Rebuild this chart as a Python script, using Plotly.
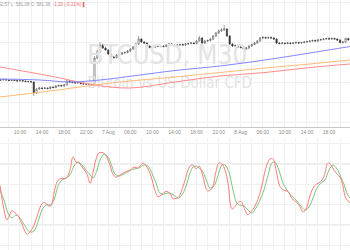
import plotly.graph_objects as go

# ---------------- data ----------------
bar_index = list(range(1, 128))

close = [561.4, 561.65, 561.4, 561.15, 561.4, 561.15, 560.9, 561.15, 560.9, 560.65,
         560.65, 560.4, 554.9, 556.9, 557.4, 557.15, 557.4, 557.15, 557.9, 557.65,
         558.4, 558.65, 558.4, 558.9, 560.9, 560.4, 560.15, 559.9, 560.15, 559.65,
         559.4, 559.4, 559.15, 558.9, 572.4, 575.4, 578.9, 577.4, 576.4, 574.4,
         572.9, 572.65, 573.9, 574.4, 574.9, 575.15, 575.9, 576.9, 577.9, 579.4,
         581.9, 580.4, 579.9, 578.4, 577.65, 577.9, 578.4, 578.15, 578.4, 578.15,
         578.9, 579.4, 578.9, 578.65, 578.9, 579.15, 578.9, 579.4, 579.65, 579.9,
         579.65, 580.9, 582.4, 579.9, 580.9, 581.15, 581.9, 583.4, 584.9, 585.9,
         586.4, 586.9, 583.4, 579.4, 578.4, 578.65, 577.9, 577.65, 576.9, 577.4,
         578.4, 579.15, 579.9, 580.9, 582.4, 582.65, 582.4, 582.65, 582.4, 581.9,
         579.9, 579.65, 579.9, 579.65, 579.9, 579.65, 579.9, 580.15, 579.9, 580.15,
         580.4, 580.65, 580.9, 581.15, 580.9, 581.4, 581.65, 581.9, 582.15, 581.9,
         582.15, 581.9, 581.4, 580.15, 580.4, 582.15, 581.38]

high = [561.9, 562.1, 562.0, 561.8, 561.9, 561.7, 561.6, 561.6, 561.5, 561.3,
        561.1, 561.0, 560.7, 557.4, 557.9, 557.9, 557.9, 557.8, 558.4, 558.3,
        558.9, 559.1, 559.1, 559.4, 561.4, 561.3, 560.8, 560.6, 560.6, 560.5,
        560.0, 559.9, 559.8, 559.6, 573.4, 576.4, 580.4, 579.6, 578.0, 576.9,
        574.9, 573.4, 574.4, 574.9, 575.4, 575.6, 576.4, 577.4, 578.4, 580.0,
        583.4, 582.4, 580.9, 580.4, 578.9, 578.4, 578.9, 578.8, 578.9, 578.8,
        579.4, 579.9, 579.9, 579.3, 579.4, 579.6, 579.6, 579.9, 580.1, 580.4,
        580.3, 581.4, 583.4, 582.9, 581.4, 581.6, 582.4, 583.9, 585.4, 586.6,
        587.4, 588.9, 587.4, 583.9, 579.9, 579.1, 579.1, 578.4, 578.1, 577.9,
        578.9, 579.6, 580.4, 581.4, 582.9, 583.4, 583.1, 583.1, 583.1, 582.9,
        582.4, 580.4, 580.4, 580.3, 580.4, 580.3, 580.4, 580.6, 580.6, 580.6,
        580.9, 581.1, 581.4, 581.6, 581.6, 581.9, 582.1, 582.4, 582.6, 582.6,
        582.6, 582.6, 582.4, 581.9, 580.9, 582.6, 582.57]

low = [560.9, 561.1, 561.0, 560.8, 560.9, 560.8, 560.5, 560.6, 560.5, 560.2,
       560.2, 560.0, 553.4, 554.4, 556.5, 556.7, 556.8, 556.7, 556.8, 557.2,
       557.3, 558.0, 558.0, 558.0, 558.6, 560.0, 559.7, 559.5, 559.5, 559.2,
       559.0, 558.9, 558.7, 558.4, 558.4, 571.9, 574.9, 576.9, 575.9, 573.9,
       572.4, 572.0, 572.2, 573.4, 573.9, 574.5, 574.7, 575.4, 576.4, 577.4,
       578.9, 579.9, 579.4, 577.9, 577.2, 577.2, 577.4, 577.7, 577.7, 577.7,
       577.7, 578.4, 578.4, 578.2, 578.2, 578.4, 578.4, 578.4, 578.9, 579.2,
       579.2, 579.2, 580.4, 579.4, 579.4, 580.4, 580.7, 581.4, 582.9, 584.4,
       585.4, 585.9, 582.9, 578.9, 577.9, 577.9, 577.4, 577.2, 576.4, 576.4,
       576.9, 577.9, 578.7, 579.4, 580.4, 581.9, 581.9, 581.9, 581.9, 581.4,
       579.4, 579.2, 579.2, 579.2, 579.2, 579.2, 579.2, 579.4, 579.4, 579.4,
       579.7, 579.9, 580.2, 580.4, 580.4, 580.4, 580.9, 581.2, 581.4, 581.4,
       581.4, 581.4, 580.9, 579.7, 579.7, 579.9, 581.08]

first_open = 561.4
open_ = [first_open] + close[:-1]

# moving averages (sampled along the chart)
ma_blue_x = [0.76, 15.25, 26.1, 37.0, 51.5, 64.2, 80.5, 96.8, 113.1, 127.6]
ma_blue_y = [561.9, 561.4, 560.4, 561.4, 563.9, 566.15, 568.4, 571.4, 574.9, 578.15]
ma_red_x = [0.76, 18.9, 35.2, 47.9, 64.2, 80.5, 96.8, 113.1, 127.6]
ma_red_y = [567.9, 563.4, 558.9, 557.4, 560.4, 563.4, 565.15, 567.65, 569.4]
ma_orange_x = [0.76, 18.9, 35.2, 47.9, 64.2, 80.5, 96.8, 113.1, 127.6]
ma_orange_y = [552.9, 555.9, 558.9, 560.9, 562.9, 565.15, 567.4, 569.4, 571.4]

# stochastic oscillator
k_x = [0.76, 1.85, 3.3, 4.4, 5.1, 6.2, 7.3, 8.7, 10.5, 11.6, 13.1, 14.5, 16.0, 17.1, 18.2,
       19.2, 20.7, 21.8, 23.2, 24.7, 26.1, 27.2, 28.3, 29.4, 30.8, 32.3, 33.4, 34.5, 35.5,
       36.6, 38.1, 39.2, 40.6, 41.7, 42.8, 44.2, 46.0, 47.9, 49.3, 50.8, 52.6, 54.0, 55.5,
       56.9, 58.0, 59.5, 60.9, 62.4, 63.4, 64.2, 65.3, 66.3, 67.8, 68.9, 70.0, 71.1, 71.8,
       72.9, 74.3, 75.8, 76.8, 77.9, 79.0, 80.1, 81.2, 82.3, 83.4, 84.8, 85.9, 87.0, 88.1,
       89.2, 90.6, 91.7, 92.8, 94.2, 95.7, 97.1, 98.6, 99.7, 100.8, 102.2, 103.7, 105.1,
       106.6, 108.4, 109.5, 110.5, 111.6, 112.7, 113.8, 115.3, 116.7, 118.2, 119.6, 120.7,
       121.8, 122.9, 124.0, 125.0, 126.1, 127.6]
k_val = [59, 40, 25, 31, 34, 32, 29, 21, 11, 13, 20, 31, 41, 42, 39,
         39, 56, 64, 66, 66, 74, 87, 82, 81, 76, 70, 61, 72, 84,
         91, 91, 88, 79, 70, 67, 69, 72, 74, 77, 76, 81, 77, 68,
         54, 48, 50, 53, 51, 46, 46, 47, 52, 64, 74, 79, 78, 75,
         78, 68, 54, 54, 58, 72, 81, 80, 74, 61, 36, 38, 42, 43,
         37, 30, 33, 37, 45, 59, 76, 85, 85, 74, 58, 54, 53,
         46, 42, 38, 33, 35, 45, 54, 60, 62, 68, 81, 79,
         74, 70, 67, 59, 46, 42]
d_x = [0.76, 2.21, 3.66, 5.1, 6.56, 8.0, 9.8, 11.6, 13.1, 14.5, 16.0, 17.4, 18.9, 20.3,
       21.8, 23.2, 24.7, 26.1, 27.6, 29.0, 30.5, 31.9, 33.4, 34.5, 35.9, 37.0, 38.4, 39.9,
       41.3, 42.4, 43.9, 45.7, 47.5, 49.3, 51.1, 53.0, 54.4, 55.8, 57.3, 58.7, 60.2, 61.6,
       63.1, 64.2, 65.3, 66.7, 68.2, 69.6, 70.7, 71.8, 72.9, 74.3, 75.8, 76.8, 78.3, 79.7,
       81.2, 82.3, 83.7, 85.2, 86.6, 87.7, 89.2, 90.6, 92.1, 93.5, 95.0, 96.4, 97.9, 99.3,
       100.4, 101.8, 103.3, 104.7, 106.6, 108.4, 109.8, 111.3, 112.7, 114.2, 115.6, 117.1,
       118.5, 120.0, 121.4, 122.9, 124.3, 125.4, 126.8, 127.6]
d_val = [54.4, 44.6, 31.8, 26.9, 29.8, 26.9, 19.0, 13.1, 14.1, 22.9, 34.7, 39.7, 39.7, 44.6,
         58.4, 64.3, 66.2, 69.2, 78.0, 81.9, 79.0, 74.1, 69.2, 66.2, 74.1, 83.9, 89.8, 86.9,
         78.0, 70.2, 68.2, 70.2, 73.1, 75.1, 76.1, 79.0, 78.0, 71.1, 61.3, 51.5, 50.5, 51.5,
         50.5, 48.5, 46.5, 49.5, 58.4, 71.1, 77.0, 78.0, 76.1, 72.1, 62.3, 56.4, 58.4, 68.2,
         79.0, 79.0, 72.1, 54.4, 41.6, 39.7, 38.7, 34.7, 31.8, 36.7, 44.6, 54.4, 69.2, 81.0,
         81.9, 74.1, 61.3, 54.4, 48.5, 43.6, 38.7, 34.7, 37.7, 46.5, 56.4, 61.3,
         64.3, 74.1, 79.0, 75.1, 67.2, 60.3, 49.5, 46.5]

tick_pos = [0, 8, 16, 24, 32, 40, 48, 56, 64, 72, 80, 88, 96, 104, 112, 120, 128]
tick_text = ["06:00", "10:00", "14:00", "18:00", "22:00", "7 Aug", "06:00", "10:00",
             "14:00", "18:00", "22:00", "8 Aug", "06:00", "10:00", "14:00", "18:00", "22:00"]
minor_pos = [4, 12, 20, 28, 36, 44, 52, 60, 68, 76, 84, 92, 100, 108, 116, 124]

stoch_levels = [80, 20]

# ---------------- figure ----------------
X_RANGE = [0.76, 127.6]
Y_RANGE = [537.9, 601.4]
Y2_RANGE = [-4.6, 105.6]
GRID = "#f1f1f1"
WM_FONT = "DejaVu Sans Condensed, Liberation Sans Narrow, Arial Narrow, sans-serif"

fig = go.Figure()

wm_x = X_RANGE[0] + (X_RANGE[1] - X_RANGE[0]) * 0.478
wm_y1 = Y_RANGE[1] - (Y_RANGE[1] - Y_RANGE[0]) * 0.455
wm_y2 = Y_RANGE[1] - (Y_RANGE[1] - Y_RANGE[0]) * 0.665
fig.add_trace(go.Scatter(x=[wm_x], y=[wm_y1], mode="text", text=["BTCUSD, M30"],
                         textfont=dict(family=WM_FONT, size=26, color="#e3e3e3"),
                         xaxis="x", yaxis="y", hoverinfo="skip", showlegend=False))
fig.add_trace(go.Scatter(x=[wm_x + 0.9], y=[wm_y2], mode="text", text=["Bitcoin vs US Dollar CFD"],
                         textfont=dict(family=WM_FONT, size=15, color="#e3e3e3"),
                         xaxis="x", yaxis="y", hoverinfo="skip", showlegend=False))

fig.add_trace(go.Candlestick(
    x=bar_index, open=open_, high=high, low=low, close=close,
    increasing=dict(line=dict(color="#444444", width=0.5), fillcolor="#ffffff"),
    decreasing=dict(line=dict(color="#333333", width=0.5), fillcolor="#333333"),
    whiskerwidth=0, xaxis="x", yaxis="y", showlegend=False))

fig.add_trace(go.Scatter(x=ma_red_x, y=ma_red_y, mode="lines", line=dict(color="#ff8a8a", width=1, shape="spline"),
                         xaxis="x", yaxis="y", showlegend=False))
fig.add_trace(go.Scatter(x=ma_orange_x, y=ma_orange_y, mode="lines", line=dict(color="#ffbb77", width=1, shape="spline"),
                         xaxis="x", yaxis="y", showlegend=False))
fig.add_trace(go.Scatter(x=ma_blue_x, y=ma_blue_y, mode="lines", line=dict(color="#8585ff", width=1, shape="spline"),
                         xaxis="x", yaxis="y", showlegend=False))

fig.add_trace(go.Scatter(x=d_x, y=d_val, mode="lines", line=dict(color="#7cc67c", width=1, shape="spline"),
                         xaxis="x2", yaxis="y2", showlegend=False))
fig.add_trace(go.Scatter(x=k_x, y=k_val, mode="lines", line=dict(color="#ff7b7b", width=1, shape="spline"),
                         xaxis="x2", yaxis="y2", showlegend=False))

for lv in stoch_levels:
    fig.add_shape(type="line", xref="x2 domain", yref="y2", x0=0, x1=1, y0=lv, y1=lv,
                  line=dict(color="#dadada", width=1), layer="below")

xcommon = dict(range=X_RANGE, tickvals=tick_pos, showgrid=True, gridcolor=GRID, gridwidth=1,
               zeroline=False, minor=dict(tickvals=minor_pos, showgrid=True, gridcolor=GRID, gridwidth=1))

fig.update_layout(
    width=350, height=250, margin=dict(l=0, r=0, t=0, b=0),
    paper_bgcolor="white", plot_bgcolor="white", showlegend=False,
    xaxis=dict(**xcommon, domain=[0, 1], anchor="y", ticktext=tick_text,
               tickfont=dict(size=5, color="#8a8a8a", family="Liberation Sans, Arial, sans-serif"),
               showline=True, linecolor="#c8c8c8", linewidth=1, ticks="", ticklen=0,
               rangeslider=dict(visible=False)),
    yaxis=dict(domain=[0.492, 1], range=Y_RANGE, showticklabels=False, showgrid=True,
               gridcolor=GRID, dtick=10, tick0=0, zeroline=False, anchor="x"),
    xaxis2=dict(**xcommon, domain=[0, 1], anchor="y2", showticklabels=False, ticks=""),
    yaxis2=dict(domain=[0, 0.448], range=Y2_RANGE, showticklabels=False, showgrid=True,
                gridcolor=GRID, dtick=20, tick0=0, zeroline=False, anchor="x2"),
)

fig.add_annotation(xref="paper", yref="paper", x=-0.031, y=1.0, xanchor="left", yanchor="top",
                   showarrow=False, borderpad=0,
                   text='H: 582.57 L: 581.08 C: 581.38, <span style="color:#e87070">-1.20 (-0.21%) \u258c</span>',
                   font=dict(size=4.5, color="#9a9a9a", family="Liberation Sans, Arial, sans-serif"))

fig.write_html("out.html")
